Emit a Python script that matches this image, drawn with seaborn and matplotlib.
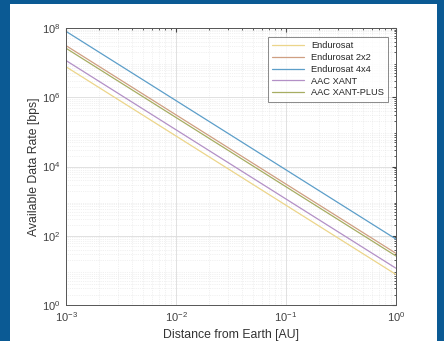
import numpy as np
import matplotlib.pyplot as plt
import pandas as pd
import seaborn as sns
from matplotlib.patches import Rectangle

# dane (koncowe punkty prostych na skali log-log)
distance_au = [1e-3, 1.0]
antennas = ['Endurosat', 'Endurosat 2x2', 'Endurosat 4x4', 'AAC XANT', 'AAC XANT-PLUS']
rate_endurosat = [7.6e6, 7.6]
rate_endurosat_2x2 = [3.1e7, 31]
rate_endurosat_4x4 = [8.0e7, 80]
rate_xant = [1.15e7, 11.5]
rate_xant_plus = [2.6e7, 26]

colors = ['#ecd58a', '#cf9f82', '#5c9ec9', '#b390c6', '#a7ad62']

rates = [rate_endurosat, rate_endurosat_2x2, rate_endurosat_4x4, rate_xant, rate_xant_plus]
df = pd.DataFrame({
    'Distance': distance_au * len(antennas),
    'Rate': [r for rr in rates for r in rr],
    'Antenna': [a for a in antennas for _ in distance_au],
})

sns.set_style('white')
plt.rcParams['font.family'] = ['Liberation Sans', 'DejaVu Sans']
plt.rcParams['axes.unicode_minus'] = False

fig = plt.figure(figsize=(4.44, 3.41), dpi=100, facecolor='#0b5a94')
fig.patches.append(Rectangle((10 / 444, 0), 427 / 444, 1 - 3.5 / 341,
                             transform=fig.transFigure, facecolor='white',
                             edgecolor='none', zorder=-10))
ax = fig.add_axes([66 / 444, 1 - 305 / 341, 330 / 444, 277 / 341])
ax.set_zorder(5)

sns.lineplot(data=df, x='Distance', y='Rate', hue='Antenna', hue_order=antennas,
             palette=dict(zip(antennas, colors)), linewidth=0.9, ax=ax)

ax.set_xscale('log')
ax.set_yscale('log')
ax.set_xlim(1e-3, 1)
ax.set_ylim(1, 1e8)
ax.set_xticks([1e-3, 1e-2, 1e-1, 1])
ax.set_yticks([1, 1e2, 1e4, 1e6, 1e8])

ax.grid(True, which='major', color='#dcdcdc', linewidth=0.6)
ax.grid(True, which='minor', color='#e4e4e4', linewidth=0.5, linestyle=':')
ax.tick_params(which='both', direction='in', top=True, right=True, labelsize=8,
               colors='#404040', length=3, pad=4)
ax.tick_params(which='minor', length=1.5)
for s in ax.spines.values():
    s.set_color('#555555')
    s.set_linewidth(0.7)

ax.set_xlabel('Distance from Earth [AU]', fontsize=8.8, color='#333333', labelpad=3)
ax.set_ylabel('Available Data Rate [bps]', fontsize=8.8, color='#333333', labelpad=1)

leg = ax.legend(loc='upper right', fontsize=6.7, handlelength=3.4, frameon=True,
                fancybox=False, edgecolor='#555555', borderpad=0.45,
                labelspacing=0.3, borderaxespad=0, bbox_to_anchor=(0.976, 0.967))
leg.get_frame().set_linewidth(0.6)
leg.set_title(None)

fig.savefig('out.png', dpi=100, facecolor=fig.get_facecolor())
